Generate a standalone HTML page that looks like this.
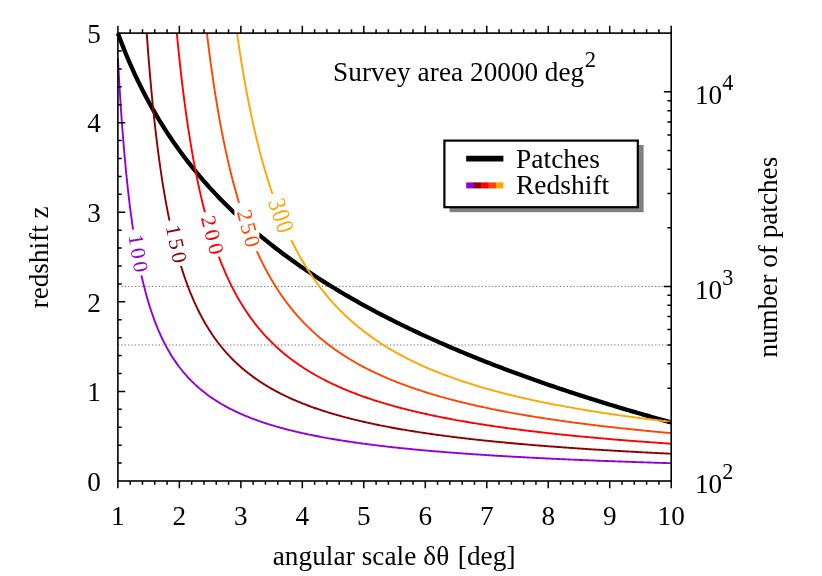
<!DOCTYPE html>
<html><head><meta charset="utf-8"><title>plot</title>
<style>html,body{margin:0;padding:0;background:#fff;}body{width:822px;height:576px;position:relative;overflow:hidden;font-family:"Liberation Serif",serif;}</style></head>
<body>
<svg width="822" height="576" viewBox="0 0 822 576" style="position:absolute;left:0;top:0;will-change:transform" font-family="'Liberation Serif', serif" font-size="27.2px" fill="#000">
<line x1="117.9" x2="671.2" y1="286.40" y2="286.40" stroke="#707070" stroke-width="1" stroke-dasharray="1.3 2.1"/>
<line x1="117.9" x2="671.2" y1="344.98" y2="344.98" stroke="#707070" stroke-width="1" stroke-dasharray="1.3 2.1"/>
<rect x="449.5" y="145" width="194.1" height="67.2" fill="#808080"/>
<rect x="444.4" y="140.6" width="193.4" height="66.6" fill="#fff" stroke="#000" stroke-width="2.2"/>
<line x1="466.2" x2="503.4" y1="158.6" y2="158.6" stroke="#000" stroke-width="5.6"/>
<rect x="466.20" y="182.4" width="7.74" height="6" fill="#9400D3"/>
<rect x="473.64" y="182.4" width="7.74" height="6" fill="#8B0000"/>
<rect x="481.08" y="182.4" width="7.74" height="6" fill="#FF0000"/>
<rect x="488.52" y="182.4" width="7.74" height="6" fill="#FF4500"/>
<rect x="495.96" y="182.4" width="7.44" height="6" fill="#FFA500"/>
<text x="516" y="167.8" font-size="27.5px">Patches</text>
<text x="516" y="194.3" font-size="27.5px">Redshift</text>
<text x="333.0" y="81"><tspan letter-spacing="0.11px">Survey area</tspan> 20000 deg<tspan dy="-13.7" dx="0.5" font-size="22.6px">2</tspan></text>
<path d="M117.90,33.22 L120.68,40.70 L123.46,47.86 L126.24,54.72 L129.02,61.33 L131.80,67.68 L134.58,73.80 L137.36,79.71 L140.14,85.42 L142.92,90.94 L145.70,96.29 L148.48,101.47 L151.26,106.50 L154.05,111.38 L156.83,116.13 L159.61,120.75 L162.39,125.24 L165.17,129.62 L167.95,133.89 L170.73,138.05 L173.51,142.11 L176.29,146.08 L179.07,149.96 L181.85,153.74 L184.63,157.45 L187.41,161.08 L190.19,164.63 L192.97,168.10 L195.75,171.51 L198.53,174.85 L201.31,178.13 L204.09,181.34 L206.87,184.49 L209.65,187.59 L212.43,190.63 L215.21,193.61 L217.99,196.55 L220.77,199.43 L223.56,202.27 L226.34,205.06 L229.12,207.80 L231.90,210.50 L234.68,213.16 L237.46,215.77 L240.24,218.35 L243.02,220.89 L245.80,223.39 L248.58,225.85 L251.36,228.28 L254.14,230.67 L256.92,233.03 L259.70,235.36 L262.48,237.66 L265.26,239.92 L268.04,242.16 L270.82,244.36 L273.60,246.54 L276.38,248.69 L279.16,250.81 L281.94,252.91 L284.72,254.98 L287.50,257.03 L290.28,259.05 L293.07,261.05 L295.85,263.02 L298.63,264.97 L301.41,266.90 L304.19,268.81 L306.97,270.70 L309.75,272.56 L312.53,274.41 L315.31,276.23 L318.09,278.04 L320.87,279.82 L323.65,281.59 L326.43,283.34 L329.21,285.07 L331.99,286.79 L334.77,288.48 L337.55,290.16 L340.33,291.83 L343.11,293.48 L345.89,295.11 L348.67,296.72 L351.45,298.32 L354.23,299.91 L357.01,301.48 L359.79,303.04 L362.58,304.58 L365.36,306.11 L368.14,307.62 L370.92,309.12 L373.70,310.61 L376.48,312.08 L379.26,313.55 L382.04,315.00 L384.82,316.43 L387.60,317.86 L390.38,319.27 L393.16,320.67 L395.94,322.06 L398.72,323.44 L401.50,324.81 L404.28,326.16 L407.06,327.51 L409.84,328.85 L412.62,330.17 L415.40,331.48 L418.18,332.79 L420.96,334.08 L423.74,335.37 L426.52,336.64 L429.31,337.91 L432.09,339.16 L434.87,340.41 L437.65,341.65 L440.43,342.87 L443.21,344.09 L445.99,345.30 L448.77,346.51 L451.55,347.70 L454.33,348.89 L457.11,350.06 L459.89,351.23 L462.67,352.39 L465.45,353.54 L468.23,354.69 L471.01,355.83 L473.79,356.96 L476.57,358.08 L479.35,359.19 L482.13,360.30 L484.91,361.40 L487.69,362.50 L490.47,363.58 L493.25,364.66 L496.03,365.73 L498.82,366.80 L501.60,367.86 L504.38,368.91 L507.16,369.96 L509.94,371.00 L512.72,372.03 L515.50,373.06 L518.28,374.08 L521.06,375.09 L523.84,376.10 L526.62,377.10 L529.40,378.10 L532.18,379.09 L534.96,380.07 L537.74,381.05 L540.52,382.03 L543.30,382.99 L546.08,383.96 L548.86,384.91 L551.64,385.87 L554.42,386.81 L557.20,387.75 L559.98,388.69 L562.76,389.62 L565.54,390.55 L568.33,391.47 L571.11,392.38 L573.89,393.29 L576.67,394.20 L579.45,395.10 L582.23,396.00 L585.01,396.89 L587.79,397.77 L590.57,398.66 L593.35,399.53 L596.13,400.41 L598.91,401.27 L601.69,402.14 L604.47,403.00 L607.25,403.85 L610.03,404.71 L612.81,405.55 L615.59,406.39 L618.37,407.23 L621.15,408.07 L623.93,408.90 L626.71,409.72 L629.49,410.55 L632.27,411.36 L635.05,412.18 L637.84,412.99 L640.62,413.79 L643.40,414.60 L646.18,415.40 L648.96,416.19 L651.74,416.98 L654.52,417.77 L657.30,418.55 L660.08,419.33 L662.86,420.11 L665.64,420.88 L668.42,421.65 L671.20,422.42" fill="none" stroke="#000" stroke-width="4.3" stroke-linejoin="round"/>
<path d="M117.90,58.63 L119.29,83.21 L120.67,105.15 L122.06,124.82 L123.45,142.56 L124.83,158.63 L126.22,173.25 L127.61,186.60 L128.99,198.84 L130.38,210.09 L131.77,220.48 L133.15,230.10 L134.54,239.02 L135.93,247.32 L137.31,255.06 L138.70,262.30 L140.09,269.08 L141.47,275.44 L142.86,281.42 L144.25,287.06 L145.63,292.38 L147.02,297.41 L148.41,302.17 L149.79,306.68 L151.18,310.97 L152.57,315.04 L153.95,318.92 L155.34,322.61 L156.73,326.14 L158.11,329.50 L159.50,332.72 L160.89,335.80 L162.27,338.76 L163.66,341.59 L165.05,344.30 L166.44,346.91 L167.82,349.42 L169.21,351.83 L170.60,354.15 L171.98,356.39 L173.37,358.55 L174.76,360.63 L176.14,362.64 L177.53,364.58 L178.92,366.46 L180.30,368.27 L181.69,370.03 L183.08,371.73 L184.46,373.38 L185.85,374.98 L187.24,376.53 L188.62,378.03 L190.01,379.49 L191.40,380.90 L192.78,382.28 L194.17,383.62 L195.56,384.92 L196.94,386.19 L198.33,387.42 L199.72,388.62 L201.10,389.79 L202.49,390.92 L203.88,392.03 L205.26,393.11 L206.65,394.17 L208.04,395.20 L209.42,396.20 L210.81,397.18 L212.20,398.14 L213.58,399.07 L214.97,399.99 L216.36,400.88 L217.74,401.75 L219.13,402.60 L220.52,403.44 L221.90,404.25 L223.29,405.05 L224.68,405.84 L226.06,406.60 L227.45,407.35 L228.84,408.09 L230.22,408.81 L231.61,409.51 L233.00,410.20 L234.38,410.88 L235.77,411.54 L237.16,412.20 L238.54,412.83 L239.93,413.46 L241.32,414.08 L242.70,414.68 L244.09,415.27 L245.48,415.86 L246.86,416.43 L248.25,416.99 L249.64,417.54 L251.02,418.08 L252.41,418.62 L253.80,419.14 L255.18,419.66 L256.57,420.16 L257.96,420.66 L259.35,421.15 L260.73,421.63 L262.12,422.10 L263.51,422.57 L264.89,423.03 L266.28,423.48 L267.67,423.92 L269.05,424.36 L270.44,424.79 L271.83,425.21 L273.21,425.63 L274.60,426.04 L275.99,426.45 L277.37,426.84 L278.76,427.24 L280.15,427.62 L281.53,428.01 L282.92,428.38 L284.31,428.75 L285.69,429.12 L287.08,429.48 L288.47,429.83 L289.85,430.18 L291.24,430.53 L292.63,430.87 L294.01,431.20 L295.40,431.53 L296.79,431.86 L298.17,432.18 L299.56,432.50 L300.95,432.82 L302.33,433.13 L303.72,433.43 L305.11,433.73 L306.49,434.03 L307.88,434.33 L309.27,434.62 L310.65,434.90 L312.04,435.19 L313.43,435.47 L314.81,435.74 L316.20,436.02 L317.59,436.29 L318.97,436.55 L320.36,436.81 L321.75,437.07 L323.13,437.33 L324.52,437.59 L325.91,437.84 L327.29,438.08 L328.68,438.33 L330.07,438.57 L331.45,438.81 L332.84,439.05 L334.23,439.28 L335.61,439.51 L337.00,439.74 L338.39,439.97 L339.77,440.19 L341.16,440.41 L342.55,440.63 L343.93,440.85 L345.32,441.06 L346.71,441.28 L348.09,441.49 L349.48,441.69 L350.87,441.90 L352.26,442.10 L353.64,442.30 L355.03,442.50 L356.42,442.70 L357.80,442.89 L359.19,443.09 L360.58,443.28 L361.96,443.47 L363.35,443.65 L364.74,443.84 L366.12,444.02 L367.51,444.20 L368.90,444.38 L370.28,444.56 L371.67,444.74 L373.06,444.91 L374.44,445.08 L375.83,445.26 L377.22,445.43 L378.60,445.59 L379.99,445.76 L381.38,445.92 L382.76,446.09 L384.15,446.25 L385.54,446.41 L386.92,446.57 L388.31,446.73 L389.70,446.88 L391.08,447.04 L392.47,447.19 L393.86,447.34 L395.24,447.49 L396.63,447.64 L398.02,447.79 L399.40,447.93 L400.79,448.08 L402.18,448.22 L403.56,448.36 L404.95,448.50 L406.34,448.64 L407.72,448.78 L409.11,448.92 L410.50,449.06 L411.88,449.19 L413.27,449.33 L414.66,449.46 L416.04,449.59 L417.43,449.72 L418.82,449.85 L420.20,449.98 L421.59,450.11 L422.98,450.23 L424.36,450.36 L425.75,450.48 L427.14,450.61 L428.52,450.73 L429.91,450.85 L431.30,450.97 L432.68,451.09 L434.07,451.21 L435.46,451.33 L436.84,451.44 L438.23,451.56 L439.62,451.67 L441.01,451.79 L442.39,451.90 L443.78,452.01 L445.17,452.12 L446.55,452.23 L447.94,452.34 L449.33,452.45 L450.71,452.56 L452.10,452.67 L453.49,452.77 L454.87,452.88 L456.26,452.98 L457.65,453.09 L459.03,453.19 L460.42,453.29 L461.81,453.39 L463.19,453.49 L464.58,453.59 L465.97,453.69 L467.35,453.79 L468.74,453.89 L470.13,453.99 L471.51,454.08 L472.90,454.18 L474.29,454.27 L475.67,454.37 L477.06,454.46 L478.45,454.55 L479.83,454.65 L481.22,454.74 L482.61,454.83 L483.99,454.92 L485.38,455.01 L486.77,455.10 L488.15,455.19 L489.54,455.28 L490.93,455.36 L492.31,455.45 L493.70,455.54 L495.09,455.62 L496.47,455.71 L497.86,455.79 L499.25,455.88 L500.63,455.96 L502.02,456.04 L503.41,456.12 L504.79,456.21 L506.18,456.29 L507.57,456.37 L508.95,456.45 L510.34,456.53 L511.73,456.61 L513.11,456.69 L514.50,456.76 L515.89,456.84 L517.27,456.92 L518.66,457.00 L520.05,457.07 L521.43,457.15 L522.82,457.22 L524.21,457.30 L525.59,457.37 L526.98,457.44 L528.37,457.52 L529.75,457.59 L531.14,457.66 L532.53,457.73 L533.92,457.81 L535.30,457.88 L536.69,457.95 L538.08,458.02 L539.46,458.09 L540.85,458.16 L542.24,458.23 L543.62,458.29 L545.01,458.36 L546.40,458.43 L547.78,458.50 L549.17,458.56 L550.56,458.63 L551.94,458.70 L553.33,458.76 L554.72,458.83 L556.10,458.89 L557.49,458.96 L558.88,459.02 L560.26,459.09 L561.65,459.15 L563.04,459.21 L564.42,459.27 L565.81,459.34 L567.20,459.40 L568.58,459.46 L569.97,459.52 L571.36,459.58 L572.74,459.64 L574.13,459.70 L575.52,459.76 L576.90,459.82 L578.29,459.88 L579.68,459.94 L581.06,460.00 L582.45,460.06 L583.84,460.12 L585.22,460.17 L586.61,460.23 L588.00,460.29 L589.38,460.34 L590.77,460.40 L592.16,460.46 L593.54,460.51 L594.93,460.57 L596.32,460.62 L597.70,460.68 L599.09,460.73 L600.48,460.79 L601.86,460.84 L603.25,460.89 L604.64,460.95 L606.02,461.00 L607.41,461.05 L608.80,461.10 L610.18,461.16 L611.57,461.21 L612.96,461.26 L614.34,461.31 L615.73,461.36 L617.12,461.41 L618.50,461.46 L619.89,461.51 L621.28,461.56 L622.66,461.61 L624.05,461.66 L625.44,461.71 L626.83,461.76 L628.21,461.81 L629.60,461.86 L630.99,461.91 L632.37,461.96 L633.76,462.00 L635.15,462.05 L636.53,462.10 L637.92,462.15 L639.31,462.19 L640.69,462.24 L642.08,462.29 L643.47,462.33 L644.85,462.38 L646.24,462.42 L647.63,462.47 L649.01,462.51 L650.40,462.56 L651.79,462.60 L653.17,462.65 L654.56,462.69 L655.95,462.74 L657.33,462.78 L658.72,462.83 L660.11,462.87 L661.49,462.91 L662.88,462.96 L664.27,463.00 L665.65,463.04 L667.04,463.08 L668.43,463.13 L669.81,463.17 L671.20,463.21" fill="none" stroke="#9400D3" stroke-width="1.9" stroke-linejoin="round"/>
<path d="M146.71,33.10 L147.02,37.36 L148.41,55.71 L149.79,72.64 L151.18,88.30 L152.57,102.83 L153.95,116.33 L155.34,128.92 L156.73,140.67 L158.11,151.68 L159.50,161.99 L160.89,171.69 L162.27,180.81 L163.66,189.41 L165.05,197.53 L166.44,205.20 L167.82,212.47 L169.21,219.37 L170.60,225.91 L171.98,232.14 L173.37,238.06 L174.76,243.70 L176.14,249.09 L177.53,254.23 L178.92,259.14 L180.30,263.84 L181.69,268.34 L183.08,272.66 L184.46,276.80 L185.85,280.78 L187.24,284.59 L188.62,288.27 L190.01,291.80 L191.40,295.21 L192.78,298.49 L194.17,301.65 L195.56,304.71 L196.94,307.65 L198.33,310.50 L199.72,313.26 L201.10,315.92 L202.49,318.50 L203.88,320.99 L205.26,323.41 L206.65,325.75 L208.04,328.03 L209.42,330.23 L210.81,332.37 L212.20,334.45 L213.58,336.47 L214.97,338.43 L216.36,340.34 L217.74,342.20 L219.13,344.00 L220.52,345.76 L221.90,347.48 L223.29,349.14 L224.68,350.77 L226.06,352.35 L227.45,353.90 L228.84,355.41 L230.22,356.88 L231.61,358.31 L233.00,359.71 L234.38,361.08 L235.77,362.42 L237.16,363.73 L238.54,365.00 L239.93,366.25 L241.32,367.47 L242.70,368.67 L244.09,369.84 L245.48,370.98 L246.86,372.10 L248.25,373.20 L249.64,374.27 L251.02,375.32 L252.41,376.36 L253.80,377.37 L255.18,378.36 L256.57,379.33 L257.96,380.28 L259.35,381.21 L260.73,382.13 L262.12,383.03 L263.51,383.91 L264.89,384.78 L266.28,385.63 L267.67,386.46 L269.05,387.28 L270.44,388.09 L271.83,388.88 L273.21,389.66 L274.60,390.42 L275.99,391.17 L277.37,391.91 L278.76,392.64 L280.15,393.35 L281.53,394.05 L282.92,394.74 L284.31,395.42 L285.69,396.09 L287.08,396.75 L288.47,397.39 L289.85,398.03 L291.24,398.66 L292.63,399.28 L294.01,399.88 L295.40,400.48 L296.79,401.07 L298.17,401.65 L299.56,402.23 L300.95,402.79 L302.33,403.35 L303.72,403.89 L305.11,404.43 L306.49,404.97 L307.88,405.49 L309.27,406.01 L310.65,406.52 L312.04,407.02 L313.43,407.52 L314.81,408.00 L316.20,408.49 L317.59,408.96 L318.97,409.43 L320.36,409.90 L321.75,410.35 L323.13,410.80 L324.52,411.25 L325.91,411.69 L327.29,412.12 L328.68,412.55 L330.07,412.98 L331.45,413.39 L332.84,413.81 L334.23,414.21 L335.61,414.62 L337.00,415.01 L338.39,415.41 L339.77,415.79 L341.16,416.18 L342.55,416.55 L343.93,416.93 L345.32,417.30 L346.71,417.66 L348.09,418.02 L349.48,418.38 L350.87,418.73 L352.26,419.08 L353.64,419.43 L355.03,419.77 L356.42,420.11 L357.80,420.44 L359.19,420.77 L360.58,421.09 L361.96,421.42 L363.35,421.74 L364.74,422.05 L366.12,422.36 L367.51,422.67 L368.90,422.98 L370.28,423.28 L371.67,423.58 L373.06,423.87 L374.44,424.17 L375.83,424.46 L377.22,424.74 L378.60,425.03 L379.99,425.31 L381.38,425.58 L382.76,425.86 L384.15,426.13 L385.54,426.40 L386.92,426.67 L388.31,426.93 L389.70,427.19 L391.08,427.45 L392.47,427.71 L393.86,427.96 L395.24,428.21 L396.63,428.46 L398.02,428.71 L399.40,428.95 L400.79,429.20 L402.18,429.44 L403.56,429.67 L404.95,429.91 L406.34,430.14 L407.72,430.37 L409.11,430.60 L410.50,430.83 L411.88,431.05 L413.27,431.28 L414.66,431.50 L416.04,431.72 L417.43,431.93 L418.82,432.15 L420.20,432.36 L421.59,432.57 L422.98,432.78 L424.36,432.99 L425.75,433.19 L427.14,433.40 L428.52,433.60 L429.91,433.80 L431.30,434.00 L432.68,434.20 L434.07,434.39 L435.46,434.58 L436.84,434.78 L438.23,434.97 L439.62,435.16 L441.01,435.34 L442.39,435.53 L443.78,435.71 L445.17,435.89 L446.55,436.08 L447.94,436.26 L449.33,436.43 L450.71,436.61 L452.10,436.79 L453.49,436.96 L454.87,437.13 L456.26,437.30 L457.65,437.47 L459.03,437.64 L460.42,437.81 L461.81,437.97 L463.19,438.14 L464.58,438.30 L465.97,438.46 L467.35,438.63 L468.74,438.79 L470.13,438.94 L471.51,439.10 L472.90,439.26 L474.29,439.41 L475.67,439.57 L477.06,439.72 L478.45,439.87 L479.83,440.02 L481.22,440.17 L482.61,440.32 L483.99,440.46 L485.38,440.61 L486.77,440.75 L488.15,440.90 L489.54,441.04 L490.93,441.18 L492.31,441.32 L493.70,441.46 L495.09,441.60 L496.47,441.74 L497.86,441.88 L499.25,442.01 L500.63,442.15 L502.02,442.28 L503.41,442.41 L504.79,442.55 L506.18,442.68 L507.57,442.81 L508.95,442.94 L510.34,443.07 L511.73,443.19 L513.11,443.32 L514.50,443.45 L515.89,443.57 L517.27,443.70 L518.66,443.82 L520.05,443.94 L521.43,444.06 L522.82,444.18 L524.21,444.30 L525.59,444.42 L526.98,444.54 L528.37,444.66 L529.75,444.78 L531.14,444.89 L532.53,445.01 L533.92,445.12 L535.30,445.24 L536.69,445.35 L538.08,445.46 L539.46,445.57 L540.85,445.69 L542.24,445.80 L543.62,445.91 L545.01,446.02 L546.40,446.12 L547.78,446.23 L549.17,446.34 L550.56,446.44 L551.94,446.55 L553.33,446.66 L554.72,446.76 L556.10,446.86 L557.49,446.97 L558.88,447.07 L560.26,447.17 L561.65,447.27 L563.04,447.37 L564.42,447.47 L565.81,447.57 L567.20,447.67 L568.58,447.77 L569.97,447.87 L571.36,447.96 L572.74,448.06 L574.13,448.16 L575.52,448.25 L576.90,448.35 L578.29,448.44 L579.68,448.54 L581.06,448.63 L582.45,448.72 L583.84,448.81 L585.22,448.91 L586.61,449.00 L588.00,449.09 L589.38,449.18 L590.77,449.27 L592.16,449.36 L593.54,449.44 L594.93,449.53 L596.32,449.62 L597.70,449.71 L599.09,449.79 L600.48,449.88 L601.86,449.97 L603.25,450.05 L604.64,450.13 L606.02,450.22 L607.41,450.30 L608.80,450.39 L610.18,450.47 L611.57,450.55 L612.96,450.63 L614.34,450.71 L615.73,450.80 L617.12,450.88 L618.50,450.96 L619.89,451.04 L621.28,451.12 L622.66,451.19 L624.05,451.27 L625.44,451.35 L626.83,451.43 L628.21,451.51 L629.60,451.58 L630.99,451.66 L632.37,451.74 L633.76,451.81 L635.15,451.89 L636.53,451.96 L637.92,452.04 L639.31,452.11 L640.69,452.18 L642.08,452.26 L643.47,452.33 L644.85,452.40 L646.24,452.47 L647.63,452.55 L649.01,452.62 L650.40,452.69 L651.79,452.76 L653.17,452.83 L654.56,452.90 L655.95,452.97 L657.33,453.04 L658.72,453.11 L660.11,453.18 L661.49,453.25 L662.88,453.31 L664.27,453.38 L665.65,453.45 L667.04,453.52 L668.43,453.58 L669.81,453.65 L671.20,453.71" fill="none" stroke="#8B0000" stroke-width="1.9" stroke-linejoin="round"/>
<path d="M176.81,33.10 L177.53,40.53 L178.92,54.24 L180.30,67.15 L181.69,79.31 L183.08,90.80 L184.46,101.66 L185.85,111.94 L187.24,121.68 L188.62,130.93 L190.01,139.72 L191.40,148.09 L192.78,156.05 L194.17,163.65 L195.56,170.90 L196.94,177.83 L198.33,184.45 L199.72,190.79 L201.10,196.87 L202.49,202.69 L203.88,208.28 L205.26,213.65 L206.65,218.81 L208.04,223.77 L209.42,228.54 L210.81,233.14 L212.20,237.58 L213.58,241.85 L214.97,245.98 L216.36,249.96 L217.74,253.81 L219.13,257.53 L220.52,261.12 L221.90,264.61 L223.29,267.98 L224.68,271.24 L226.06,274.41 L227.45,277.47 L228.84,280.45 L230.22,283.34 L231.61,286.14 L233.00,288.87 L234.38,291.51 L235.77,294.09 L237.16,296.59 L238.54,299.02 L239.93,301.39 L241.32,303.70 L242.70,305.95 L244.09,308.14 L245.48,310.27 L246.86,312.35 L248.25,314.38 L249.64,316.35 L251.02,318.28 L252.41,320.17 L253.80,322.01 L255.18,323.81 L256.57,325.56 L257.96,327.28 L259.35,328.95 L260.73,330.59 L262.12,332.20 L263.51,333.77 L264.89,335.30 L266.28,336.80 L267.67,338.27 L269.05,339.71 L270.44,341.12 L271.83,342.50 L273.21,343.86 L274.60,345.18 L275.99,346.48 L277.37,347.76 L278.76,349.01 L280.15,350.23 L281.53,351.43 L282.92,352.61 L284.31,353.77 L285.69,354.91 L287.08,356.02 L288.47,357.12 L289.85,358.19 L291.24,359.25 L292.63,360.29 L294.01,361.31 L295.40,362.31 L296.79,363.29 L298.17,364.26 L299.56,365.21 L300.95,366.15 L302.33,367.07 L303.72,367.97 L305.11,368.87 L306.49,369.74 L307.88,370.60 L309.27,371.45 L310.65,372.29 L312.04,373.11 L313.43,373.92 L314.81,374.71 L316.20,375.50 L317.59,376.27 L318.97,377.03 L320.36,377.78 L321.75,378.52 L323.13,379.25 L324.52,379.96 L325.91,380.67 L327.29,381.37 L328.68,382.05 L330.07,382.73 L331.45,383.40 L332.84,384.06 L334.23,384.71 L335.61,385.35 L337.00,385.98 L338.39,386.60 L339.77,387.21 L341.16,387.82 L342.55,388.42 L343.93,389.01 L345.32,389.59 L346.71,390.17 L348.09,390.74 L349.48,391.30 L350.87,391.85 L352.26,392.40 L353.64,392.93 L355.03,393.47 L356.42,393.99 L357.80,394.51 L359.19,395.03 L360.58,395.53 L361.96,396.03 L363.35,396.53 L364.74,397.02 L366.12,397.50 L367.51,397.98 L368.90,398.45 L370.28,398.92 L371.67,399.38 L373.06,399.83 L374.44,400.28 L375.83,400.73 L377.22,401.17 L378.60,401.61 L379.99,402.04 L381.38,402.46 L382.76,402.88 L384.15,403.30 L385.54,403.71 L386.92,404.12 L388.31,404.52 L389.70,404.92 L391.08,405.32 L392.47,405.71 L393.86,406.09 L395.24,406.47 L396.63,406.85 L398.02,407.23 L399.40,407.60 L400.79,407.96 L402.18,408.33 L403.56,408.69 L404.95,409.04 L406.34,409.39 L407.72,409.74 L409.11,410.09 L410.50,410.43 L411.88,410.77 L413.27,411.10 L414.66,411.43 L416.04,411.76 L417.43,412.09 L418.82,412.41 L420.20,412.73 L421.59,413.05 L422.98,413.36 L424.36,413.67 L425.75,413.98 L427.14,414.28 L428.52,414.58 L429.91,414.88 L431.30,415.18 L432.68,415.47 L434.07,415.76 L435.46,416.05 L436.84,416.33 L438.23,416.62 L439.62,416.90 L441.01,417.18 L442.39,417.45 L443.78,417.72 L445.17,417.99 L446.55,418.26 L447.94,418.53 L449.33,418.79 L450.71,419.05 L452.10,419.31 L453.49,419.57 L454.87,419.83 L456.26,420.08 L457.65,420.33 L459.03,420.58 L460.42,420.82 L461.81,421.07 L463.19,421.31 L464.58,421.55 L465.97,421.79 L467.35,422.02 L468.74,422.26 L470.13,422.49 L471.51,422.72 L472.90,422.95 L474.29,423.18 L475.67,423.40 L477.06,423.63 L478.45,423.85 L479.83,424.07 L481.22,424.29 L482.61,424.50 L483.99,424.72 L485.38,424.93 L486.77,425.14 L488.15,425.35 L489.54,425.56 L490.93,425.77 L492.31,425.97 L493.70,426.18 L495.09,426.38 L496.47,426.58 L497.86,426.78 L499.25,426.98 L500.63,427.17 L502.02,427.37 L503.41,427.56 L504.79,427.75 L506.18,427.94 L507.57,428.13 L508.95,428.32 L510.34,428.50 L511.73,428.69 L513.11,428.87 L514.50,429.06 L515.89,429.24 L517.27,429.42 L518.66,429.60 L520.05,429.77 L521.43,429.95 L522.82,430.12 L524.21,430.30 L525.59,430.47 L526.98,430.64 L528.37,430.81 L529.75,430.98 L531.14,431.15 L532.53,431.31 L533.92,431.48 L535.30,431.64 L536.69,431.81 L538.08,431.97 L539.46,432.13 L540.85,432.29 L542.24,432.45 L543.62,432.61 L545.01,432.76 L546.40,432.92 L547.78,433.07 L549.17,433.23 L550.56,433.38 L551.94,433.53 L553.33,433.68 L554.72,433.83 L556.10,433.98 L557.49,434.13 L558.88,434.28 L560.26,434.42 L561.65,434.57 L563.04,434.71 L564.42,434.86 L565.81,435.00 L567.20,435.14 L568.58,435.28 L569.97,435.42 L571.36,435.56 L572.74,435.70 L574.13,435.83 L575.52,435.97 L576.90,436.11 L578.29,436.24 L579.68,436.37 L581.06,436.51 L582.45,436.64 L583.84,436.77 L585.22,436.90 L586.61,437.03 L588.00,437.16 L589.38,437.29 L590.77,437.42 L592.16,437.54 L593.54,437.67 L594.93,437.80 L596.32,437.92 L597.70,438.04 L599.09,438.17 L600.48,438.29 L601.86,438.41 L603.25,438.53 L604.64,438.65 L606.02,438.77 L607.41,438.89 L608.80,439.01 L610.18,439.13 L611.57,439.24 L612.96,439.36 L614.34,439.48 L615.73,439.59 L617.12,439.71 L618.50,439.82 L619.89,439.93 L621.28,440.04 L622.66,440.16 L624.05,440.27 L625.44,440.38 L626.83,440.49 L628.21,440.60 L629.60,440.71 L630.99,440.81 L632.37,440.92 L633.76,441.03 L635.15,441.14 L636.53,441.24 L637.92,441.35 L639.31,441.45 L640.69,441.56 L642.08,441.66 L643.47,441.76 L644.85,441.87 L646.24,441.97 L647.63,442.07 L649.01,442.17 L650.40,442.27 L651.79,442.37 L653.17,442.47 L654.56,442.57 L655.95,442.67 L657.33,442.76 L658.72,442.86 L660.11,442.96 L661.49,443.05 L662.88,443.15 L664.27,443.25 L665.65,443.34 L667.04,443.44 L668.43,443.53 L669.81,443.62 L671.20,443.72" fill="none" stroke="#FF0000" stroke-width="1.9" stroke-linejoin="round"/>
<path d="M206.91,33.10 L208.04,42.41 L209.42,53.35 L210.81,63.78 L212.20,73.72 L213.58,83.21 L214.97,92.28 L216.36,100.95 L217.74,109.25 L219.13,117.20 L220.52,124.82 L221.90,132.13 L223.29,139.15 L224.68,145.90 L226.06,152.38 L227.45,158.63 L228.84,164.64 L230.22,170.43 L231.61,176.01 L233.00,181.40 L234.38,186.60 L235.77,191.62 L237.16,196.47 L238.54,201.16 L239.93,205.70 L241.32,210.09 L242.70,214.35 L244.09,218.47 L245.48,222.46 L246.86,226.34 L248.25,230.10 L249.64,233.74 L251.02,237.29 L252.41,240.73 L253.80,244.07 L255.18,247.32 L256.57,250.48 L257.96,253.55 L259.35,256.55 L260.73,259.46 L262.12,262.30 L263.51,265.06 L264.89,267.75 L266.28,270.38 L267.67,272.94 L269.05,275.44 L270.44,277.88 L271.83,280.25 L273.21,282.58 L274.60,284.84 L275.99,287.06 L277.37,289.22 L278.76,291.34 L280.15,293.41 L281.53,295.43 L282.92,297.41 L284.31,299.34 L285.69,301.24 L287.08,303.09 L288.47,304.91 L289.85,306.68 L291.24,308.42 L292.63,310.13 L294.01,311.80 L295.40,313.44 L296.79,315.04 L298.17,316.61 L299.56,318.16 L300.95,319.67 L302.33,321.16 L303.72,322.61 L305.11,324.04 L306.49,325.45 L307.88,326.82 L309.27,328.18 L310.65,329.50 L312.04,330.81 L313.43,332.09 L314.81,333.35 L316.20,334.59 L317.59,335.80 L318.97,337.00 L320.36,338.18 L321.75,339.33 L323.13,340.47 L324.52,341.59 L325.91,342.68 L327.29,343.77 L328.68,344.83 L330.07,345.88 L331.45,346.91 L332.84,347.92 L334.23,348.92 L335.61,349.91 L337.00,350.88 L338.39,351.83 L339.77,352.77 L341.16,353.69 L342.55,354.61 L343.93,355.51 L345.32,356.39 L346.71,357.26 L348.09,358.12 L349.48,358.97 L350.87,359.81 L352.26,360.63 L353.64,361.44 L355.03,362.24 L356.42,363.03 L357.80,363.81 L359.19,364.58 L360.58,365.34 L361.96,366.09 L363.35,366.83 L364.74,367.55 L366.12,368.27 L367.51,368.98 L368.90,369.68 L370.28,370.37 L371.67,371.06 L373.06,371.73 L374.44,372.40 L375.83,373.05 L377.22,373.70 L378.60,374.34 L379.99,374.98 L381.38,375.60 L382.76,376.22 L384.15,376.83 L385.54,377.43 L386.92,378.03 L388.31,378.62 L389.70,379.20 L391.08,379.77 L392.47,380.34 L393.86,380.90 L395.24,381.46 L396.63,382.01 L398.02,382.55 L399.40,383.09 L400.79,383.62 L402.18,384.14 L403.56,384.66 L404.95,385.18 L406.34,385.68 L407.72,386.19 L409.11,386.68 L410.50,387.17 L411.88,387.66 L413.27,388.14 L414.66,388.62 L416.04,389.09 L417.43,389.55 L418.82,390.02 L420.20,390.47 L421.59,390.92 L422.98,391.37 L424.36,391.81 L425.75,392.25 L427.14,392.68 L428.52,393.11 L429.91,393.54 L431.30,393.96 L432.68,394.38 L434.07,394.79 L435.46,395.20 L436.84,395.60 L438.23,396.00 L439.62,396.40 L441.01,396.79 L442.39,397.18 L443.78,397.57 L445.17,397.95 L446.55,398.33 L447.94,398.70 L449.33,399.07 L450.71,399.44 L452.10,399.80 L453.49,400.17 L454.87,400.52 L456.26,400.88 L457.65,401.23 L459.03,401.58 L460.42,401.92 L461.81,402.26 L463.19,402.60 L464.58,402.94 L465.97,403.27 L467.35,403.60 L468.74,403.93 L470.13,404.25 L471.51,404.58 L472.90,404.90 L474.29,405.21 L475.67,405.52 L477.06,405.84 L478.45,406.14 L479.83,406.45 L481.22,406.75 L482.61,407.05 L483.99,407.35 L485.38,407.65 L486.77,407.94 L488.15,408.23 L489.54,408.52 L490.93,408.81 L492.31,409.09 L493.70,409.37 L495.09,409.65 L496.47,409.93 L497.86,410.20 L499.25,410.47 L500.63,410.75 L502.02,411.01 L503.41,411.28 L504.79,411.54 L506.18,411.81 L507.57,412.07 L508.95,412.32 L510.34,412.58 L511.73,412.83 L513.11,413.09 L514.50,413.34 L515.89,413.59 L517.27,413.83 L518.66,414.08 L520.05,414.32 L521.43,414.56 L522.82,414.80 L524.21,415.04 L525.59,415.27 L526.98,415.51 L528.37,415.74 L529.75,415.97 L531.14,416.20 L532.53,416.43 L533.92,416.65 L535.30,416.88 L536.69,417.10 L538.08,417.32 L539.46,417.54 L540.85,417.76 L542.24,417.98 L543.62,418.19 L545.01,418.41 L546.40,418.62 L547.78,418.83 L549.17,419.04 L550.56,419.24 L551.94,419.45 L553.33,419.66 L554.72,419.86 L556.10,420.06 L557.49,420.26 L558.88,420.46 L560.26,420.66 L561.65,420.86 L563.04,421.05 L564.42,421.25 L565.81,421.44 L567.20,421.63 L568.58,421.82 L569.97,422.01 L571.36,422.20 L572.74,422.38 L574.13,422.57 L575.52,422.75 L576.90,422.94 L578.29,423.12 L579.68,423.30 L581.06,423.48 L582.45,423.66 L583.84,423.83 L585.22,424.01 L586.61,424.18 L588.00,424.36 L589.38,424.53 L590.77,424.70 L592.16,424.87 L593.54,425.04 L594.93,425.21 L596.32,425.38 L597.70,425.55 L599.09,425.71 L600.48,425.88 L601.86,426.04 L603.25,426.20 L604.64,426.36 L606.02,426.53 L607.41,426.69 L608.80,426.84 L610.18,427.00 L611.57,427.16 L612.96,427.31 L614.34,427.47 L615.73,427.62 L617.12,427.78 L618.50,427.93 L619.89,428.08 L621.28,428.23 L622.66,428.38 L624.05,428.53 L625.44,428.68 L626.83,428.82 L628.21,428.97 L629.60,429.12 L630.99,429.26 L632.37,429.40 L633.76,429.55 L635.15,429.69 L636.53,429.83 L637.92,429.97 L639.31,430.11 L640.69,430.25 L642.08,430.39 L643.47,430.53 L644.85,430.66 L646.24,430.80 L647.63,430.93 L649.01,431.07 L650.40,431.20 L651.79,431.34 L653.17,431.47 L654.56,431.60 L655.95,431.73 L657.33,431.86 L658.72,431.99 L660.11,432.12 L661.49,432.25 L662.88,432.37 L664.27,432.50 L665.65,432.63 L667.04,432.75 L668.43,432.88 L669.81,433.00 L671.20,433.13" fill="none" stroke="#FF4500" stroke-width="1.9" stroke-linejoin="round"/>
<path d="M237.01,33.10 L237.16,34.15 L238.54,43.65 L239.93,52.76 L241.32,61.51 L242.70,69.91 L244.09,78.00 L245.48,85.77 L246.86,93.26 L248.25,100.48 L249.64,107.44 L251.02,114.15 L252.41,120.62 L253.80,126.88 L255.18,132.93 L256.57,138.77 L257.96,144.42 L259.35,149.89 L260.73,155.19 L262.12,160.32 L263.51,165.29 L264.89,170.11 L266.28,174.79 L267.67,179.33 L269.05,183.73 L270.44,188.01 L271.83,192.17 L273.21,196.21 L274.60,200.13 L275.99,203.95 L277.37,207.67 L278.76,211.29 L280.15,214.81 L281.53,218.24 L282.92,221.59 L284.31,224.85 L285.69,228.02 L287.08,231.12 L288.47,234.14 L289.85,237.09 L291.24,239.97 L292.63,242.78 L294.01,245.52 L295.40,248.21 L296.79,250.83 L298.17,253.39 L299.56,255.89 L300.95,258.34 L302.33,260.73 L303.72,263.07 L305.11,265.36 L306.49,267.61 L307.88,269.80 L309.27,271.95 L310.65,274.06 L312.04,276.12 L313.43,278.14 L314.81,280.12 L316.20,282.07 L317.59,283.97 L318.97,285.84 L320.36,287.67 L321.75,289.46 L323.13,291.22 L324.52,292.95 L325.91,294.65 L327.29,296.31 L328.68,297.95 L330.07,299.56 L331.45,301.13 L332.84,302.68 L334.23,304.20 L335.61,305.70 L337.00,307.17 L338.39,308.61 L339.77,310.03 L341.16,311.43 L342.55,312.80 L343.93,314.15 L345.32,315.48 L346.71,316.79 L348.09,318.07 L349.48,319.34 L350.87,320.58 L352.26,321.81 L353.64,323.01 L355.03,324.20 L356.42,325.37 L357.80,326.52 L359.19,327.65 L360.58,328.77 L361.96,329.87 L363.35,330.95 L364.74,332.02 L366.12,333.07 L367.51,334.11 L368.90,335.13 L370.28,336.14 L371.67,337.13 L373.06,338.11 L374.44,339.08 L375.83,340.03 L377.22,340.97 L378.60,341.89 L379.99,342.81 L381.38,343.71 L382.76,344.60 L384.15,345.47 L385.54,346.34 L386.92,347.19 L388.31,348.04 L389.70,348.87 L391.08,349.69 L392.47,350.50 L393.86,351.30 L395.24,352.09 L396.63,352.87 L398.02,353.64 L399.40,354.41 L400.79,355.16 L402.18,355.90 L403.56,356.63 L404.95,357.36 L406.34,358.08 L407.72,358.78 L409.11,359.48 L410.50,360.17 L411.88,360.86 L413.27,361.53 L414.66,362.20 L416.04,362.86 L417.43,363.51 L418.82,364.16 L420.20,364.79 L421.59,365.42 L422.98,366.05 L424.36,366.66 L425.75,367.27 L427.14,367.88 L428.52,368.47 L429.91,369.06 L431.30,369.64 L432.68,370.22 L434.07,370.79 L435.46,371.36 L436.84,371.92 L438.23,372.47 L439.62,373.02 L441.01,373.56 L442.39,374.10 L443.78,374.63 L445.17,375.15 L446.55,375.67 L447.94,376.19 L449.33,376.69 L450.71,377.20 L452.10,377.70 L453.49,378.19 L454.87,378.68 L456.26,379.17 L457.65,379.65 L459.03,380.12 L460.42,380.59 L461.81,381.06 L463.19,381.52 L464.58,381.98 L465.97,382.43 L467.35,382.88 L468.74,383.33 L470.13,383.77 L471.51,384.20 L472.90,384.63 L474.29,385.06 L475.67,385.49 L477.06,385.91 L478.45,386.32 L479.83,386.74 L481.22,387.15 L482.61,387.55 L483.99,387.95 L485.38,388.35 L486.77,388.75 L488.15,389.14 L489.54,389.53 L490.93,389.91 L492.31,390.29 L493.70,390.67 L495.09,391.05 L496.47,391.42 L497.86,391.79 L499.25,392.15 L500.63,392.52 L502.02,392.88 L503.41,393.23 L504.79,393.59 L506.18,393.94 L507.57,394.28 L508.95,394.63 L510.34,394.97 L511.73,395.31 L513.11,395.65 L514.50,395.98 L515.89,396.31 L517.27,396.64 L518.66,396.96 L520.05,397.29 L521.43,397.61 L522.82,397.93 L524.21,398.24 L525.59,398.56 L526.98,398.87 L528.37,399.17 L529.75,399.48 L531.14,399.78 L532.53,400.09 L533.92,400.38 L535.30,400.68 L536.69,400.98 L538.08,401.27 L539.46,401.56 L540.85,401.85 L542.24,402.13 L543.62,402.42 L545.01,402.70 L546.40,402.98 L547.78,403.25 L549.17,403.53 L550.56,403.80 L551.94,404.07 L553.33,404.34 L554.72,404.61 L556.10,404.88 L557.49,405.14 L558.88,405.40 L560.26,405.66 L561.65,405.92 L563.04,406.18 L564.42,406.43 L565.81,406.69 L567.20,406.94 L568.58,407.19 L569.97,407.43 L571.36,407.68 L572.74,407.92 L574.13,408.17 L575.52,408.41 L576.90,408.65 L578.29,408.88 L579.68,409.12 L581.06,409.36 L582.45,409.59 L583.84,409.82 L585.22,410.05 L586.61,410.28 L588.00,410.50 L589.38,410.73 L590.77,410.95 L592.16,411.18 L593.54,411.40 L594.93,411.62 L596.32,411.84 L597.70,412.05 L599.09,412.27 L600.48,412.48 L601.86,412.69 L603.25,412.91 L604.64,413.12 L606.02,413.32 L607.41,413.53 L608.80,413.74 L610.18,413.94 L611.57,414.15 L612.96,414.35 L614.34,414.55 L615.73,414.75 L617.12,414.95 L618.50,415.14 L619.89,415.34 L621.28,415.53 L622.66,415.73 L624.05,415.92 L625.44,416.11 L626.83,416.30 L628.21,416.49 L629.60,416.68 L630.99,416.87 L632.37,417.05 L633.76,417.24 L635.15,417.42 L636.53,417.60 L637.92,417.78 L639.31,417.96 L640.69,418.14 L642.08,418.32 L643.47,418.50 L644.85,418.68 L646.24,418.85 L647.63,419.03 L649.01,419.20 L650.40,419.37 L651.79,419.54 L653.17,419.71 L654.56,419.88 L655.95,420.05 L657.33,420.22 L658.72,420.38 L660.11,420.55 L661.49,420.71 L662.88,420.88 L664.27,421.04 L665.65,421.20 L667.04,421.36 L668.43,421.52 L669.81,421.68 L671.20,421.84" fill="none" stroke="#FFA500" stroke-width="1.9" stroke-linejoin="round"/>
<rect x="126.00" y="229.60" width="24.00" height="45.80" fill="#fff"/>
<text transform="translate(138.40,253.30) rotate(81.0) scale(1,0.97)" x="1.45" y="7.3" text-anchor="middle" font-size="21.6px" letter-spacing="2.90px" fill="#9400D3">100</text>
<rect x="164.50" y="220.70" width="24.00" height="45.30" fill="#fff"/>
<text transform="translate(176.50,243.80) rotate(78.5) scale(1,0.97)" x="1.50" y="7.3" text-anchor="middle" font-size="21.6px" letter-spacing="3.00px" fill="#8B0000">150</text>
<rect x="200.00" y="212.30" width="25.00" height="44.30" fill="#fff"/>
<text transform="translate(212.50,234.90) rotate(75.7) scale(1,0.98)" x="1.70" y="7.3" text-anchor="middle" font-size="21.6px" letter-spacing="3.40px" fill="#FF0000">200</text>
<rect x="234.40" y="202.80" width="25.00" height="48.45" fill="#fff"/>
<text transform="translate(248.75,228.30) rotate(75.1) scale(1,1.00)" x="1.35" y="7.3" text-anchor="middle" font-size="21.6px" letter-spacing="2.70px" fill="#FF4500">250</text>
<rect x="270.50" y="193.90" width="24.50" height="46.30" fill="#fff"/>
<text transform="translate(281.35,215.40) rotate(71.4) scale(1,1.17)" x="0.55" y="7.3" text-anchor="middle" font-size="21.6px" letter-spacing="1.10px" fill="#FFA500">300</text>
<rect x="117.90" y="33.10" width="553.30" height="447.90" fill="none" stroke="#000" stroke-width="1.6"/>
<path d="M117.90,481.00v7.3M117.90,33.10v-7.3M130.20,481.00v3.8M130.20,33.10v-3.8M142.49,481.00v3.8M142.49,33.10v-3.8M154.79,481.00v3.8M154.79,33.10v-3.8M167.08,481.00v3.8M167.08,33.10v-3.8M179.38,481.00v7.3M179.38,33.10v-7.3M191.67,481.00v3.8M191.67,33.10v-3.8M203.97,481.00v3.8M203.97,33.10v-3.8M216.26,481.00v3.8M216.26,33.10v-3.8M228.56,481.00v3.8M228.56,33.10v-3.8M240.86,481.00v7.3M240.86,33.10v-7.3M253.15,481.00v3.8M253.15,33.10v-3.8M265.45,481.00v3.8M265.45,33.10v-3.8M277.74,481.00v3.8M277.74,33.10v-3.8M290.04,481.00v3.8M290.04,33.10v-3.8M302.33,481.00v7.3M302.33,33.10v-7.3M314.63,481.00v3.8M314.63,33.10v-3.8M326.92,481.00v3.8M326.92,33.10v-3.8M339.22,481.00v3.8M339.22,33.10v-3.8M351.52,481.00v3.8M351.52,33.10v-3.8M363.81,481.00v7.3M363.81,33.10v-7.3M376.11,481.00v3.8M376.11,33.10v-3.8M388.40,481.00v3.8M388.40,33.10v-3.8M400.70,481.00v3.8M400.70,33.10v-3.8M412.99,481.00v3.8M412.99,33.10v-3.8M425.29,481.00v7.3M425.29,33.10v-7.3M437.58,481.00v3.8M437.58,33.10v-3.8M449.88,481.00v3.8M449.88,33.10v-3.8M462.18,481.00v3.8M462.18,33.10v-3.8M474.47,481.00v3.8M474.47,33.10v-3.8M486.77,481.00v7.3M486.77,33.10v-7.3M499.06,481.00v3.8M499.06,33.10v-3.8M511.36,481.00v3.8M511.36,33.10v-3.8M523.65,481.00v3.8M523.65,33.10v-3.8M535.95,481.00v3.8M535.95,33.10v-3.8M548.24,481.00v7.3M548.24,33.10v-7.3M560.54,481.00v3.8M560.54,33.10v-3.8M572.84,481.00v3.8M572.84,33.10v-3.8M585.13,481.00v3.8M585.13,33.10v-3.8M597.43,481.00v3.8M597.43,33.10v-3.8M609.72,481.00v7.3M609.72,33.10v-7.3M622.02,481.00v3.8M622.02,33.10v-3.8M634.31,481.00v3.8M634.31,33.10v-3.8M646.61,481.00v3.8M646.61,33.10v-3.8M658.90,481.00v3.8M658.90,33.10v-3.8M671.20,481.00v7.3M671.20,33.10v-7.3M117.90,463.08h3.8M117.90,445.17h3.8M117.90,427.25h3.8M117.90,409.34h3.8M117.90,391.42h7.3M117.90,373.50h3.8M117.90,355.59h3.8M117.90,337.67h3.8M117.90,319.76h3.8M117.90,301.84h7.3M117.90,283.92h3.8M117.90,266.01h3.8M117.90,248.09h3.8M117.90,230.18h3.8M117.90,212.26h7.3M117.90,194.34h3.8M117.90,176.43h3.8M117.90,158.51h3.8M117.90,140.60h3.8M117.90,122.68h7.3M117.90,104.76h3.8M117.90,86.85h3.8M117.90,68.93h3.8M117.90,51.02h3.8M671.20,422.42h-3.8M671.20,388.15h-3.8M671.20,363.84h-3.8M671.20,344.98h-3.8M671.20,329.57h-3.8M671.20,316.54h-3.8M671.20,305.26h-3.8M671.20,295.30h-3.8M671.20,286.40h-7.3M671.20,227.82h-3.8M671.20,193.55h-3.8M671.20,169.24h-3.8M671.20,150.38h-3.8M671.20,134.97h-3.8M671.20,121.94h-3.8M671.20,110.66h-3.8M671.20,100.70h-3.8M671.20,91.80h-7.3" fill="none" stroke="#000" stroke-width="1.5"/>
<text x="117.90" y="524.7" text-anchor="middle">1</text>
<text x="179.38" y="524.7" text-anchor="middle">2</text>
<text x="240.86" y="524.7" text-anchor="middle">3</text>
<text x="302.33" y="524.7" text-anchor="middle">4</text>
<text x="363.81" y="524.7" text-anchor="middle">5</text>
<text x="425.29" y="524.7" text-anchor="middle">6</text>
<text x="486.77" y="524.7" text-anchor="middle">7</text>
<text x="548.24" y="524.7" text-anchor="middle">8</text>
<text x="609.72" y="524.7" text-anchor="middle">9</text>
<text x="671.20" y="524.7" text-anchor="middle">10</text>
<text x="100.9" y="490.70" text-anchor="end">0</text>
<text x="100.9" y="401.12" text-anchor="end">1</text>
<text x="100.9" y="311.54" text-anchor="end">2</text>
<text x="100.9" y="221.96" text-anchor="end">3</text>
<text x="100.9" y="132.38" text-anchor="end">4</text>
<text x="100.9" y="42.80" text-anchor="end">5</text>
<text x="695.0" y="493.30">10<tspan dy="-14" font-size="22.2px">2</tspan></text>
<text x="695.0" y="298.70">10<tspan dy="-14" font-size="22.2px">3</tspan></text>
<text x="695.0" y="104.10">10<tspan dy="-14" font-size="22.2px">4</tspan></text>
<text x="272.7" y="565.3" letter-spacing="0.08px">angular scale δ<tspan letter-spacing="1.7px">θ</tspan> [deg]</text>
<text transform="translate(47.8,257.4) rotate(-90)" text-anchor="middle">redshift z</text>
<text transform="translate(776.5,257.2) rotate(-90)" text-anchor="middle">number of patches</text>
</svg>
</body></html>
